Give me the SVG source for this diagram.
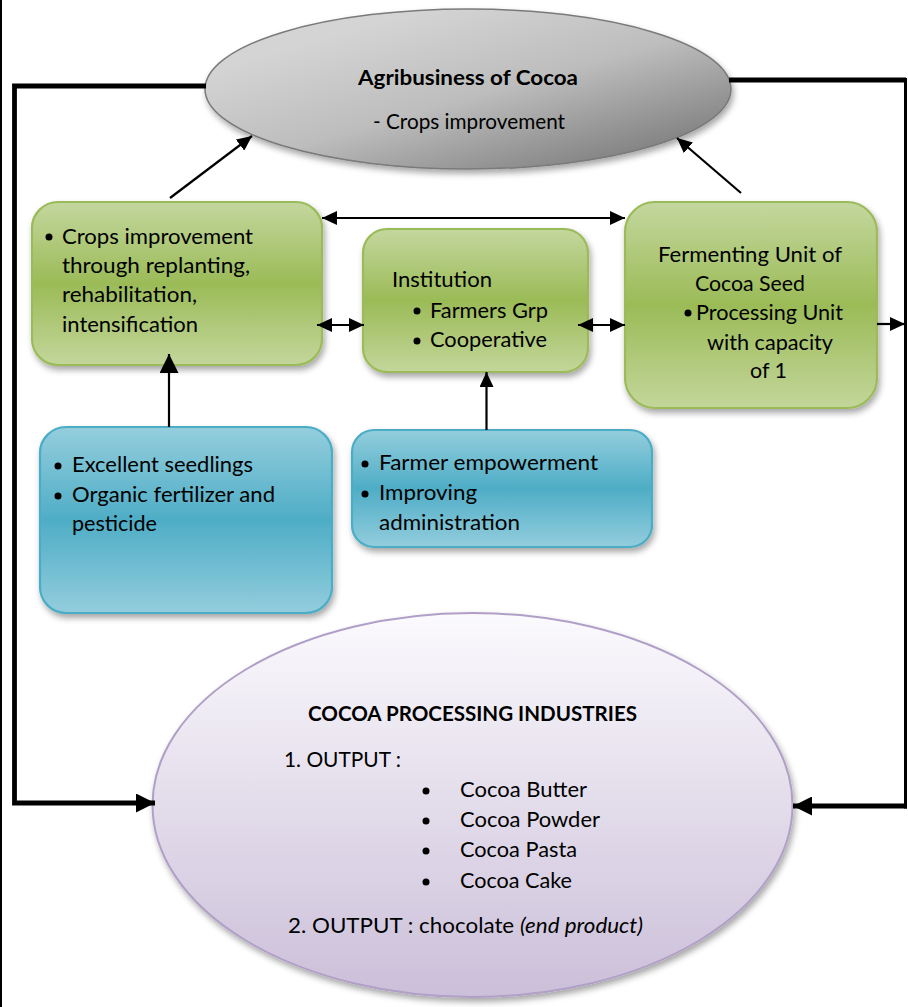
<svg xmlns="http://www.w3.org/2000/svg" width="908" height="1007" viewBox="0 0 908 1007">
<style>
.t{font-family:Lato,"Open Sans","Liberation Sans",sans-serif;font-size:21px;fill:#000}
.b{font-weight:bold}
.thin{fill:none;stroke:#000;stroke-width:2.2}
.thick{fill:none;stroke:#000;stroke-width:4.8}
.gbox{fill:url(#gGreen);stroke:#9bbb59;stroke-width:2.2;filter:url(#sh)}
.bbox{fill:url(#gBlue);stroke:#4bacc6;stroke-width:2.2;filter:url(#sh)}
.dot{fill:#000}
</style>
<defs>
<linearGradient id="gGreen" x1="0" y1="0" x2="0" y2="1">
<stop offset="0" stop-color="#c4d79e"/><stop offset="0.5" stop-color="#9bbb57"/><stop offset="1" stop-color="#c3d69b"/>
</linearGradient>
<linearGradient id="gBlue" x1="0" y1="0" x2="0" y2="1">
<stop offset="0" stop-color="#94cedd"/><stop offset="0.5" stop-color="#4eadc6"/><stop offset="1" stop-color="#93cddd"/>
</linearGradient>
<linearGradient id="gGray" x1="0.15" y1="0.25" x2="0.85" y2="1">
<stop offset="0" stop-color="#d4d4d4"/><stop offset="0.45" stop-color="#bdbdbd"/><stop offset="1" stop-color="#787878"/>
</linearGradient>
<linearGradient id="gPurple" x1="0" y1="0" x2="0" y2="1">
<stop offset="0" stop-color="#fbfafd"/><stop offset="1" stop-color="#cbbfd9"/>
</linearGradient>
<filter id="sh" x="-10%" y="-10%" width="125%" height="130%">
<feDropShadow dx="2" dy="4" stdDeviation="3" flood-color="#000" flood-opacity="0.35"/>
</filter>
<marker id="ah" markerUnits="userSpaceOnUse" markerWidth="15" markerHeight="14" refX="15" refY="7" orient="auto-start-reverse">
<path d="M0,0 L15,7 L0,14 z" fill="#000"/>
</marker>
<marker id="ahB" markerUnits="userSpaceOnUse" markerWidth="19" markerHeight="19" refX="19" refY="9.5" orient="auto-start-reverse">
<path d="M0,0 L19,9.5 L0,19 z" fill="#000"/>
</marker>
</defs>
<rect x="0" y="0" width="908" height="1007" fill="#fff"/>
<line x1="1" y1="0" x2="1" y2="1007" stroke="#000" stroke-width="2"/>

<g id="node-agribusiness">
<ellipse cx="468" cy="89" rx="263" ry="80" fill="url(#gGray)" stroke="#7a7a7a" stroke-width="1.5" filter="url(#sh)"/>
<text class="t b" x="358" y="85" textLength="220" lengthAdjust="spacingAndGlyphs">Agribusiness of Cocoa</text>
<text class="t" x="373" y="129" textLength="192" lengthAdjust="spacingAndGlyphs">- Crops improvement</text>
</g>

<g id="node-crops">
<rect class="gbox" x="32" y="202" width="290" height="163" rx="26"/>
<circle class="dot" cx="49" cy="237" r="3.5"/>
<text class="t" x="62" y="244" textLength="191" lengthAdjust="spacingAndGlyphs">Crops improvement</text>
<text class="t" x="62" y="273" textLength="188" lengthAdjust="spacingAndGlyphs">through replanting,</text>
<text class="t" x="62" y="302" textLength="135" lengthAdjust="spacingAndGlyphs">rehabilitation,</text>
<text class="t" x="62" y="332" textLength="136" lengthAdjust="spacingAndGlyphs">intensification</text>
</g>

<g id="node-institution">
<rect class="gbox" x="363" y="229" width="225" height="143" rx="24"/>
<text class="t" x="392" y="287" textLength="100" lengthAdjust="spacingAndGlyphs">Institution</text>
<circle class="dot" cx="417" cy="311" r="3.5"/>
<text class="t" x="430" y="318" textLength="118" lengthAdjust="spacingAndGlyphs">Farmers Grp</text>
<circle class="dot" cx="417" cy="341" r="3.5"/>
<text class="t" x="430" y="347" textLength="117" lengthAdjust="spacingAndGlyphs">Cooperative</text>
</g>

<g id="node-fermenting">
<rect class="gbox" x="625" y="202" width="252" height="206" rx="30"/>
<text class="t" x="658" y="262" textLength="184" lengthAdjust="spacingAndGlyphs">Fermenting Unit of</text>
<text class="t" x="695" y="291" textLength="110" lengthAdjust="spacingAndGlyphs">Cocoa Seed</text>
<circle class="dot" cx="688" cy="313" r="3.5"/>
<text class="t" x="696" y="320" textLength="147" lengthAdjust="spacingAndGlyphs">Processing Unit</text>
<text class="t" x="707" y="350" textLength="126" lengthAdjust="spacingAndGlyphs">with capacity</text>
<text class="t" x="750" y="378" textLength="37" lengthAdjust="spacingAndGlyphs">of 1</text>
</g>

<g id="node-seedlings">
<rect class="bbox" x="40" y="427" width="292" height="186" rx="26"/>
<circle class="dot" cx="58" cy="466" r="3.5"/>
<text class="t" x="72" y="472" textLength="181" lengthAdjust="spacingAndGlyphs">Excellent seedlings</text>
<circle class="dot" cx="58" cy="496" r="3.5"/>
<text class="t" x="72" y="502" textLength="203" lengthAdjust="spacingAndGlyphs">Organic fertilizer and</text>
<text class="t" x="72" y="531" textLength="85" lengthAdjust="spacingAndGlyphs">pesticide</text>
</g>

<g id="node-empowerment">
<rect class="bbox" x="352" y="430" width="300" height="117" rx="22"/>
<circle class="dot" cx="365" cy="464" r="3.5"/>
<text class="t" x="379" y="470" textLength="219" lengthAdjust="spacingAndGlyphs">Farmer empowerment</text>
<circle class="dot" cx="365" cy="494" r="3.5"/>
<text class="t" x="379" y="500" textLength="98" lengthAdjust="spacingAndGlyphs">Improving</text>
<text class="t" x="379" y="530" textLength="141" lengthAdjust="spacingAndGlyphs">administration</text>
</g>

<g id="node-industries">
<ellipse cx="472.5" cy="805" rx="320" ry="192" fill="url(#gPurple)" stroke="#b09fc6" stroke-width="2" filter="url(#sh)"/>
<text class="t b" x="308" y="721" textLength="329" lengthAdjust="spacingAndGlyphs">COCOA PROCESSING INDUSTRIES</text>
<text class="t" x="284" y="767" textLength="117" lengthAdjust="spacingAndGlyphs">1. OUTPUT :</text>
<circle class="dot" cx="426" cy="791" r="3.5"/>
<text class="t" x="460" y="797" textLength="127" lengthAdjust="spacingAndGlyphs">Cocoa Butter</text>
<circle class="dot" cx="426" cy="821" r="3.5"/>
<text class="t" x="460" y="827" textLength="140" lengthAdjust="spacingAndGlyphs">Cocoa Powder</text>
<circle class="dot" cx="426" cy="851" r="3.5"/>
<text class="t" x="460" y="857" textLength="117" lengthAdjust="spacingAndGlyphs">Cocoa Pasta</text>
<circle class="dot" cx="426" cy="882" r="3.5"/>
<text class="t" x="460" y="888" textLength="112" lengthAdjust="spacingAndGlyphs">Cocoa Cake</text>
<text class="t" x="288" y="933" textLength="355" lengthAdjust="spacingAndGlyphs">2. OUTPUT : chocolate <tspan font-style="italic">(end product)</tspan></text>
</g>

<g id="connectors">
<line class="thin" x1="170" y1="198" x2="252" y2="136" marker-end="url(#ah)"/>
<line class="thin" x1="741" y1="193" x2="677" y2="138" marker-end="url(#ah)"/>
<line class="thin" x1="322" y1="218" x2="625" y2="218" marker-start="url(#ah)" marker-end="url(#ah)"/>
<line class="thin" x1="317" y1="325" x2="364" y2="325" marker-start="url(#ah)" marker-end="url(#ah)"/>
<line class="thin" x1="578" y1="325" x2="625" y2="325" marker-start="url(#ah)" marker-end="url(#ah)"/>
<line class="thin" x1="877" y1="324" x2="905" y2="324" marker-end="url(#ah)"/>
<line class="thin" x1="169" y1="427" x2="169" y2="354" marker-end="url(#ahB)"/>
<line class="thin" x1="486.5" y1="430" x2="486.5" y2="372" marker-end="url(#ah)"/>
<path class="thick" d="M206,86 H14.5 V803 H155" marker-end="url(#ahB)"/>
<path class="thick" d="M729,80 H906"/>
<line x1="905.5" y1="78" x2="905.5" y2="808.5" stroke="#000" stroke-width="3"/>
<path class="thick" d="M907,806 H793" marker-end="url(#ahB)"/>
</g>
</svg>
